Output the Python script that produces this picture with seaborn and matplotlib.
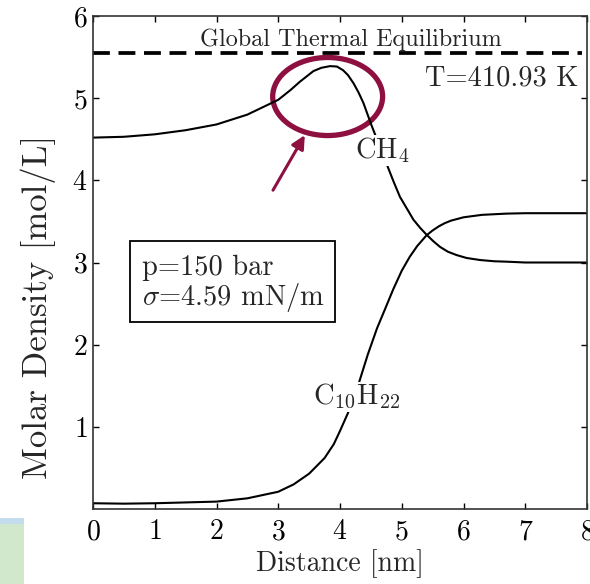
import matplotlib
matplotlib.use("Agg")
import matplotlib.pyplot as plt
import seaborn as sns
import pandas as pd
from matplotlib.patches import Ellipse, Rectangle, FancyArrowPatch

# ---- data ----
ch4_x = [0.0, 0.5, 1.0, 1.5, 2.0, 2.5, 3.0, 3.2, 3.35, 3.57, 3.7, 3.84, 3.95, 4.05, 4.13,
         4.22, 4.3, 4.38, 4.51, 4.65, 4.76, 4.87, 4.97, 5.08, 5.19, 5.30, 5.40, 5.51, 5.62,
         5.75, 5.89, 6.05, 6.27, 6.5, 6.7, 7.0, 8.0]
ch4_y = [4.52, 4.53, 4.56, 4.61, 4.68, 4.80, 4.98, 5.10, 5.20, 5.33, 5.37, 5.39, 5.385, 5.34, 5.28,
         5.18, 5.07, 4.94, 4.67, 4.40, 4.19, 3.98, 3.80, 3.66, 3.52, 3.42, 3.34, 3.26, 3.19,
         3.13, 3.09, 3.055, 3.03, 3.015, 3.01, 3.00, 3.00]
c10_x = [0.0, 0.5, 1.0, 1.5, 2.0, 2.5, 3.0, 3.25, 3.5, 3.75, 3.9, 4.0, 4.13, 4.3, 4.45,
         4.6, 4.75, 4.86, 5.0, 5.13, 5.25, 5.4, 5.5, 5.6, 5.7, 5.8, 6.0, 6.3, 6.7, 7.0, 8.0]
c10_y = [0.07, 0.065, 0.07, 0.08, 0.09, 0.13, 0.21, 0.30, 0.43, 0.62, 0.79, 0.95, 1.17, 1.52, 1.88,
         2.20, 2.47, 2.67, 2.90, 3.07, 3.20, 3.33, 3.39, 3.44, 3.48, 3.51, 3.55, 3.58, 3.595, 3.60, 3.60]
equilibrium_level = 5.55
x_ticks = [0, 1, 2, 3, 4, 5, 6, 7, 8]
y_ticks = [1, 2, 3, 4, 5, 6]

df = pd.concat([
    pd.DataFrame({"x": ch4_x, "y": ch4_y, "species": "CH4"}),
    pd.DataFrame({"x": c10_x, "y": c10_y, "species": "C10H22"}),
])

sns.set_style("ticks")
plt.rcParams["font.family"] = ["cmr10"]
plt.rcParams["mathtext.fontset"] = "cm"
plt.rcParams["axes.formatter.use_mathtext"] = True
plt.rcParams["axes.unicode_minus"] = False

fig = plt.figure(figsize=(5.9, 5.84), dpi=100)
ax = fig.add_axes([93/590, 1 - 509/584, (587-93)/590, (509-16)/584])

sns.lineplot(data=df, x="x", y="y", units="species", estimator=None,
             color="black", lw=1.5, sort=False, ax=ax, legend=False)

ax.axhline(equilibrium_level, xmin=0, xmax=0.99, color="black", lw=2.7,
           dashes=(4.5, 2.3))

ax.set_xlim(0, 8)
ax.set_ylim(0, 6)
ax.set_xticks(x_ticks)
ax.set_yticks(y_ticks)
ax.tick_params(direction="in", top=True, right=True, length=4, width=1,
               labelsize=20, colors="black")
ax.tick_params(axis="x", pad=7)
ax.tick_params(axis="y", pad=4)
for s in ax.spines.values():
    s.set_linewidth(1.2)
    s.set_color("#333333")

ax.set_xlabel("Distance [nm]", fontsize=20, labelpad=3)
ax.set_ylabel("Molar Density [mol/L]", fontsize=25)
ax.yaxis.set_label_coords(-0.075, 0.41)

ax.text(4.17, 5.63, "Global Thermal Equilibrium", fontsize=17.4, ha="center", va="baseline")
ax.text(7.86, 5.16, "T=410.93 K", fontsize=20.5, ha="right", va="baseline")
ax.text(4.24, 4.27, "CH$_4$", fontsize=20.5, ha="left", va="baseline",
        bbox=dict(facecolor="white", edgecolor="none", pad=0.5))
ax.text(3.56, 1.27, "C$_{10}$H$_{22}$", fontsize=20.5, ha="left", va="baseline",
        bbox=dict(facecolor="white", edgecolor="none", pad=0.5))

ax.add_patch(Rectangle((0.6, 2.27), 3.32, 0.99, fill=False, lw=1.3, edgecolor="black"))
ax.text(0.79, 2.85, "p=150 bar", fontsize=20.5, ha="left", va="baseline")
ax.text(0.79, 2.48, r"$\sigma$=4.59 mN/m", fontsize=20.5, ha="left", va="baseline")

maroon = "#8E1040"
ax.add_patch(Ellipse((3.80, 5.02), 1.78, 0.95, fill=False, lw=3.8, edgecolor=maroon))
ax.add_patch(FancyArrowPatch((2.915, 3.88), (3.43, 4.55), arrowstyle="-|>",
                             mutation_scale=20, lw=2.2, color=maroon,
                             shrinkA=0, shrinkB=0))

# screenshot artefact at bottom-left
fig.patches.append(Rectangle((0, 0), 24/590, 60/584, transform=fig.transFigure,
                             facecolor="#d2e8cc", edgecolor="none"))
fig.patches.append(Rectangle((0, 60/584), 24/590, 6/584, transform=fig.transFigure,
                             facecolor="#c3ddee", edgecolor="none"))

fig.savefig("out.png", dpi=100)
